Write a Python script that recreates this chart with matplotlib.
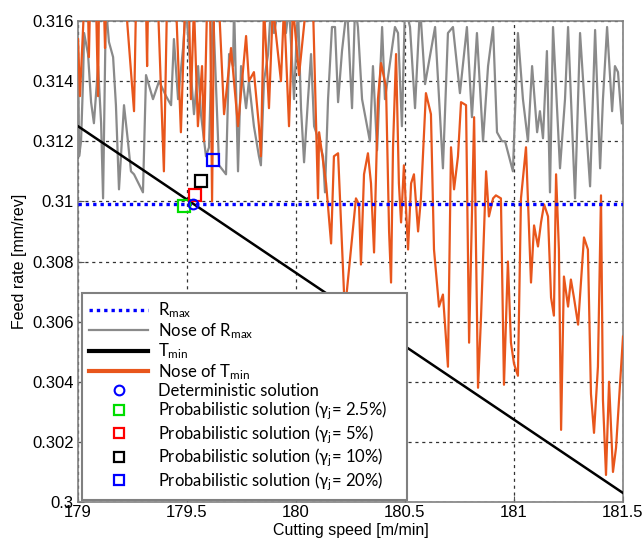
import matplotlib
matplotlib.use("Agg")
import matplotlib.pyplot as plt
from matplotlib.lines import Line2D

plt.rcParams['font.family'] = ['Liberation Sans', 'DejaVu Sans']
plt.rcParams['mathtext.default'] = 'regular'

# ---------------- data ----------------
rmax_x = [179.0, 181.5]
rmax_y = [0.3099, 0.3099]

tmin_x = [179.0, 181.5]
tmin_y = [0.3125, 0.3003]

nose_rmax_x = [179.000, 179.005, 179.014, 179.023, 179.028, 179.046, 179.060, 179.073, 179.092, 179.106,
               179.115, 179.128, 179.142, 179.161, 179.174, 179.188, 179.211, 179.229, 179.243, 179.257,
               179.298, 179.312, 179.344, 179.372, 179.404, 179.427, 179.440, 179.459, 179.482, 179.495,
               179.509, 179.532, 179.551, 179.564, 179.587, 179.601, 179.619, 179.647, 179.679, 179.693,
               179.711, 179.716, 179.734, 179.748, 179.771, 179.784, 179.807, 179.830, 179.839, 179.853,
               179.872, 179.885, 179.899, 179.922, 179.940, 179.954, 179.968, 179.991, 180.009, 180.023,
               180.037, 180.055, 180.069, 180.083, 180.106, 180.124, 180.133, 180.147, 180.165, 180.179,
               180.193, 180.211, 180.234, 180.257, 180.271, 180.284, 180.303, 180.339, 180.353, 180.372,
               180.395, 180.408, 180.454, 180.468, 180.486, 180.500, 180.523, 180.546, 180.569, 180.592,
               180.638, 180.674, 180.697, 180.720, 180.752, 180.784, 180.807, 180.830, 180.858, 180.881,
               180.904, 180.922, 180.945, 180.959, 180.995, 181.018, 181.041, 181.064, 181.083, 181.106,
               181.119, 181.133, 181.151, 181.165, 181.179, 181.211, 181.234, 181.248, 181.280, 181.303,
               181.326, 181.349, 181.372, 181.395, 181.408, 181.427, 181.450, 181.463, 181.477, 181.495]
nose_rmax_y = [0.3153, 0.3115, 0.3120, 0.3140, 0.3156, 0.3149, 0.3133, 0.3126, 0.3145, 0.3126,
               0.3101, 0.3165, 0.3153, 0.3148, 0.3132, 0.3104, 0.3132, 0.3120, 0.3110, 0.3109,
               0.3103, 0.3142, 0.3134, 0.3140, 0.3135, 0.3132, 0.3154, 0.3134, 0.3151, 0.3165,
               0.3151, 0.3129, 0.3145, 0.3129, 0.3115, 0.3118, 0.3165, 0.3112, 0.3109, 0.3149,
               0.3145, 0.3165, 0.3110, 0.3145, 0.3131, 0.3140, 0.3125, 0.3115, 0.3112, 0.3140,
               0.3149, 0.3165, 0.3156, 0.3165, 0.3165, 0.3156, 0.3165, 0.3134, 0.3165, 0.3131,
               0.3113, 0.3134, 0.3149, 0.3125, 0.3120, 0.3115, 0.3103, 0.3134, 0.3158, 0.3158,
               0.3133, 0.3150, 0.3165, 0.3131, 0.3165, 0.3158, 0.3134, 0.3120, 0.3145, 0.3117,
               0.3158, 0.3134, 0.3158, 0.3156, 0.3125, 0.3165, 0.3158, 0.3131, 0.3165, 0.3139,
               0.3158, 0.3111, 0.3156, 0.3158, 0.3136, 0.3158, 0.3128, 0.3156, 0.3120, 0.3145,
               0.3158, 0.3123, 0.3120, 0.3120, 0.3110, 0.3156, 0.3134, 0.3120, 0.3145, 0.3123,
               0.3130, 0.3121, 0.3150, 0.3103, 0.3158, 0.3111, 0.3134, 0.3158, 0.3101, 0.3156,
               0.3130, 0.3105, 0.3157, 0.3111, 0.3134, 0.3158, 0.3130, 0.3145, 0.3143, 0.3126]

nose_tmin_x = [179.000, 179.009, 179.028, 179.046, 179.050, 179.055, 179.083, 179.092, 179.096, 179.119,
               179.124, 179.128, 179.220, 179.257, 179.266, 179.312, 179.317, 179.321, 179.367, 179.394,
               179.408, 179.450, 179.472, 179.491, 179.509, 179.518, 179.532, 179.550, 179.569, 179.578,
               179.592, 179.606, 179.615, 179.624, 179.647, 179.670, 179.702, 179.734, 179.771, 179.784,
               179.807, 179.830, 179.839, 179.853, 179.876, 179.894, 179.931, 179.945, 179.968, 179.986,
               180.014, 180.046, 180.078, 180.101, 180.106, 180.138, 180.161, 180.174, 180.193, 180.220,
               180.225, 180.252, 180.275, 180.289, 180.298, 180.312, 180.330, 180.344, 180.358, 180.376,
               180.390, 180.413, 180.427, 180.436, 180.445, 180.459, 180.472, 180.482, 180.495, 180.514,
               180.528, 180.541, 180.560, 180.573, 180.596, 180.619, 180.633, 180.656, 180.674, 180.697,
               180.711, 180.725, 180.743, 180.757, 180.780, 180.794, 180.817, 180.835, 180.849, 180.872,
               180.885, 180.904, 180.917, 180.940, 180.954, 180.972, 180.986, 181.000, 181.018, 181.032,
               181.055, 181.078, 181.092, 181.110, 181.124, 181.138, 181.156, 181.170, 181.183, 181.193,
               181.206, 181.216, 181.229, 181.248, 181.261, 181.275, 181.294, 181.321, 181.339, 181.353,
               181.367, 181.385, 181.399, 181.408, 181.422, 181.436, 181.454, 181.468, 181.482, 181.500]
nose_tmin_y = [0.3154, 0.3135, 0.3165, 0.3165, 0.3148, 0.3165, 0.3165, 0.3135, 0.3165, 0.3165,
               0.3151, 0.3165, 0.3165, 0.3130, 0.3165, 0.3165, 0.3145, 0.3165, 0.3165, 0.3110,
               0.3165, 0.3165, 0.3123, 0.3165, 0.3165, 0.3134, 0.3165, 0.3125, 0.3145, 0.3120,
               0.3165, 0.3165, 0.3100, 0.3165, 0.3165, 0.3129, 0.3151, 0.3125, 0.3155, 0.3140,
               0.3143, 0.3125, 0.3115, 0.3165, 0.3131, 0.3165, 0.3140, 0.3165, 0.3125, 0.3165,
               0.3142, 0.3165, 0.3165, 0.3101, 0.3123, 0.3106, 0.3086, 0.3115, 0.3116, 0.3070,
               0.3064, 0.3084, 0.3101, 0.3099, 0.3079, 0.3109, 0.3116, 0.3106, 0.3083, 0.3134,
               0.3146, 0.3138, 0.3090, 0.3073, 0.3118, 0.3149, 0.3106, 0.3093, 0.3112, 0.3084,
               0.3106, 0.3109, 0.3090, 0.3101, 0.3136, 0.3129, 0.3084, 0.3065, 0.3069, 0.3045,
               0.3118, 0.3104, 0.3115, 0.3133, 0.3132, 0.3053, 0.3128, 0.3038, 0.3062, 0.3110,
               0.3095, 0.3101, 0.3102, 0.3101, 0.3039, 0.3080, 0.3053, 0.3046, 0.3042, 0.3101,
               0.3118, 0.3073, 0.3092, 0.3085, 0.3093, 0.3099, 0.3095, 0.3068, 0.3062, 0.3109,
               0.3084, 0.3024, 0.3075, 0.3065, 0.3074, 0.3068, 0.3059, 0.3088, 0.3084, 0.3036,
               0.3023, 0.3045, 0.3102, 0.3034, 0.3009, 0.3040, 0.3010, 0.3018, 0.3034, 0.3055]

det_x, det_y = [179.527], [0.3099]
prob_labels = ['2.5%', '5%', '10%', '20%']
prob_x = [179.487, 179.537, 179.564, 179.620]
prob_y = [0.30985, 0.3102, 0.31067, 0.31137]
prob_colors = ['#00dd00', '#ff0000', '#000000', '#0000ff']

xticks = [179, 179.5, 180, 180.5, 181, 181.5]
xticklabels = ['179', '179.5', '180', '180.5', '181', '181.5']
yticks = [0.300, 0.302, 0.304, 0.306, 0.308, 0.310, 0.312, 0.314, 0.316]
yticklabels = ['0.3', '0.302', '0.304', '0.306', '0.308', '0.31', '0.312', '0.314', '0.316']

# ---------------- figure ----------------
fig = plt.figure(figsize=(6.44, 5.45), dpi=100)
ax = fig.add_axes([78/644, 1-502/545, 545/644, 481/545])

ax.plot(nose_rmax_x, nose_rmax_y, color='#8a8a8a', lw=1.6, zorder=3)
ax.plot(nose_tmin_x, nose_tmin_y, color='#e8561c', lw=1.6, zorder=4)
ax.plot(tmin_x, tmin_y, color='black', lw=1.8, zorder=5)
ax.plot(rmax_x, rmax_y, color='#0000ff', lw=2.4, linestyle=(0, (1, 1.2)), zorder=6)
ax.plot(det_x, det_y, 'o', mfc='none', mec='#0000ff', mew=1.5, ms=7, zorder=8)
for px, py, c in zip(prob_x, prob_y, prob_colors):
    ax.plot([px], [py], 's', mfc='none', mec=c, mew=1.6, ms=8, zorder=7)

ax.set_xlim(179, 181.5)
ax.set_ylim(0.300, 0.316)
ax.set_xticks(xticks)
ax.set_xticklabels(xticklabels)
ax.set_yticks(yticks)
ax.set_yticklabels(yticklabels)
ax.tick_params(direction='in', length=4, labelsize=12, colors='#555555', labelcolor='black', pad=3)
ax.tick_params(axis='x', pad=2)
ax.grid(True, color='#333333', linestyle=(0, (2.5, 3)), lw=0.9, zorder=1)
for sp in ax.spines.values():
    sp.set_color('#808080')
    sp.set_linewidth(1.2)

ax.set_xlabel('Cutting speed [m/min]', fontsize=11.5, labelpad=2)
ax.set_ylabel('Feed rate [mm/rev]', fontsize=11.5, labelpad=4)

handles = [
    Line2D([], [], color='#0000ff', lw=2.4, linestyle=(0, (1, 1.2))),
    Line2D([], [], color='#8a8a8a', lw=1.6),
    Line2D([], [], color='black', lw=3),
    Line2D([], [], color='#e8561c', lw=3),
    Line2D([], [], marker='o', ls='none', mfc='none', mec='#0000ff', mew=1.5, ms=7),
] + [Line2D([], [], marker='s', ls='none', mfc='none', mec=c, mew=1.6, ms=7) for c in prob_colors]
labels = [r'R$_{max}$', r'Nose of R$_{max}$', r'T$_{min}$', r'Nose of T$_{min}$',
          'Deterministic solution'] + \
         [r'Probabilistic solution (γ$_{j}$= ' + p + ')' for p in prob_labels]

leg = ax.legend(handles, labels, loc='lower left', bbox_to_anchor=(0.0073, 0.004, 0.596, 0.43),
                mode='expand',
                prop={'family': ['Lato', 'DejaVu Sans'], 'size': 12},
                handlelength=3.5, handletextpad=0.6, labelspacing=0.05,
                borderpad=0.45, borderaxespad=0, fancybox=False, framealpha=1,
                edgecolor='#808080')
leg.get_frame().set_linewidth(1.5)
leg.set_zorder(10)

fig.savefig('out.png', dpi=100)
